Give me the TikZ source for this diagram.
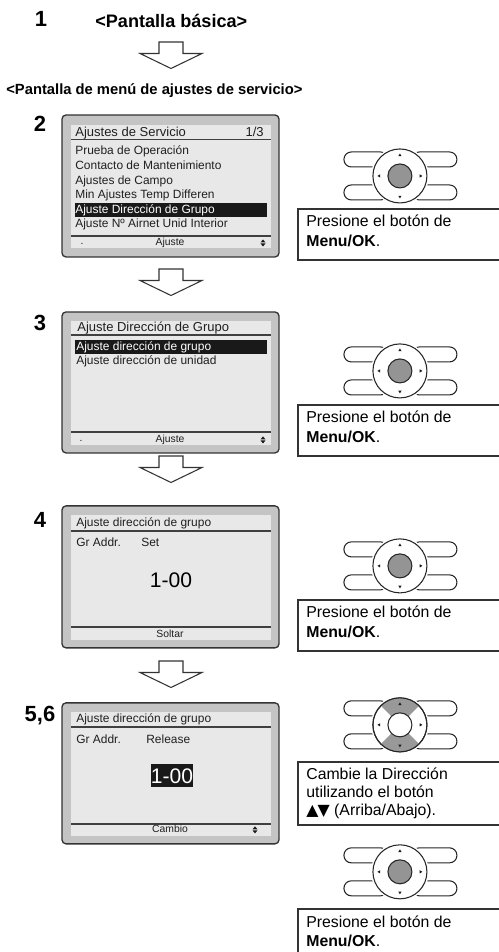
\documentclass[tikz,border=0pt]{standalone}
\usepackage{fontspec}
\setmainfont{Liberation Sans}
\newfontfamily\symfont{DejaVu Sans}
\usetikzlibrary{positioning,calc}

\begin{document}
\begin{tikzpicture}
[x=0.02cm,y=-0.02cm,
num/.style={font=\bfseries\fontsize{12.5}{14}\selectfont,inner sep=0pt,anchor=base},
heading/.style={font=\bfseries\fontsize{10.3}{12}\selectfont,inner sep=0pt,anchor=base west},
bezel/.style={draw=black!80,fill=black!23,line width=.75pt,rounded corners=2.3pt},
lcd/.style={fill=black!9},
lcdline/.style={draw=black!75,line width=.8pt},
ttl/.style={font=\fontsize{7.4}{9}\selectfont,inner sep=0pt,anchor=base west,text=black!88},
itm/.style={font=\fontsize{6.8}{8}\selectfont,inner sep=0pt,anchor=base west,text=black!88},
soft/.style={font=\fontsize{5.9}{7}\selectfont,inner sep=0pt,anchor=base,text=black!88},
hil/.style={fill=black!90},
big/.style={font=\fontsize{12}{14}\selectfont,inner sep=0pt,anchor=base},
tri/.style={fill=black!90},
hollow/.style={draw=black!80,line width=.6pt,fill=white},
note/.style={draw=black!80,line width=.6pt},
notetxt/.style={font=\fontsize{9}{11.3}\selectfont,inner sep=0pt,anchor=north west,align=left},
pad/.style={draw=black!85,line width=.6pt,fill=white},
sidekey/.style={pad,rounded corners=4.2pt},
knob/.style={draw=black!85,line width=.6pt,fill=black!42},
ring/.style={fill=black!40}]
\useasboundingbox (0,0) rectangle (499,952);
%%
%%%%%%%%%%%%%%%%%%
% headings
%%%%%%%%%%%%%%%%%%
\node[num] (n1) at (41,27) {1};
\node[heading] (h1) at (95,28) {<Pantalla básica>};
\node[heading,font=\bfseries\fontsize{8.4}{10}\selectfont] (h2) at (6,95) {<Pantalla de menú de ajustes de servicio>};
\node[num] (n2) at (40,132) {2};
\node[num] (n3) at (40,331) {3};
\node[num] (n4) at (40,527) {4};
\node[num] (n5) at (40,721) {5,6};
%%
%% step arrows
\draw[hollow] (159,42) -- (183,42) -- (183,53.5) -- (202,53.5) -- (171,68.5) -- (140,53.5) -- (159,53.5) -- cycle;
\draw[hollow] (159,269) -- (183,269) -- (183,280.5) -- (202,280.5) -- (171,295.5) -- (140,280.5) -- (159,280.5) -- cycle;
\draw[hollow] (159,456) -- (183,456) -- (183,467.5) -- (202,467.5) -- (171,482.5) -- (140,467.5) -- (159,467.5) -- cycle;
\draw[hollow] (159,661) -- (183,661) -- (183,672.5) -- (202,672.5) -- (171,687.5) -- (140,672.5) -- (159,672.5) -- cycle;
%%
%%%%%%%%%%%%%%%%%%
% screens
%%%%%%%%%%%%%%%%%%
%% screen 2
\begin{scope}[yshift=-2.3cm]
\draw[bezel] (62,0) rectangle (279,142);
\fill[lcd] (71,10) rectangle (271,133);
\node[ttl] (s2title) at (75,22) {Ajustes de Servicio};
\node[ttl,anchor=base east] (s2page) at (264,22) {1/3};
\draw[lcdline] (71,24.5) -- (271,24.5);
\node[itm] (s2a) at (75,40) {Prueba de Operación};
\node[itm] (s2b) at (75,54.6) {Contacto de Mantenimiento};
\node[itm] (s2c) at (75,69.2) {Ajustes de Campo};
\node[itm] (s2d) at (75,83.8) {Min Ajustes Temp Differen};
\fill[hil] (75,88) rectangle (267,102);
\node[itm,text=white] (s2e) at (75,98.4) {Ajuste Dirección de Grupo};
\node[itm] (s2f) at (75,113) {Ajuste Nº Airnet Unid Interior};
\draw[lcdline] (71,121) -- (271,121);
\node[soft] (s2dot) at (82,130) {.};
\node[soft] (s2soft) at (170,131) {Ajuste};
\fill[tri] (263,124.5) -- (260.5,127.5) -- (265.5,127.5) -- cycle;
\fill[tri] (263,131.5) -- (260.5,128.5) -- (265.5,128.5) -- cycle;
\end{scope}
%% screen 3
\begin{scope}[yshift=-6.24cm]
\draw[bezel] (62,0) rectangle (279,141);
\fill[lcd] (71,9) rectangle (271,133);
\node[ttl] (s3title) at (77,20) {Ajuste Dirección de Grupo};
\draw[lcdline] (71,23) -- (271,23);
\fill[hil] (75,28) rectangle (267,42);
\node[itm,text=white] (s3a) at (76,39) {Ajuste dirección de grupo};
\node[itm] (s3b) at (76,53) {Ajuste dirección de unidad};
\draw[lcdline] (71,120) -- (271,120);
\node[soft] (s3dot) at (81,130) {.};
\node[soft] (s3soft) at (170,131) {Ajuste};
\fill[tri] (263,124.5) -- (260.5,127.5) -- (265.5,127.5) -- cycle;
\fill[tri] (263,131.5) -- (260.5,128.5) -- (265.5,128.5) -- cycle;
\end{scope}
%% screen 4
\begin{scope}[yshift=-10.12cm]
\draw[bezel] (62,0) rectangle (279,142);
\fill[lcd] (71,9) rectangle (271,134);
\node[itm] (s4title) at (76,21) {Ajuste dirección de grupo};
\draw[lcdline] (71,25) -- (271,25);
\node[itm] (s4a) at (76,41) {Gr Addr.};
\node[itm] (s4b) at (141,41) {Set};
\node[big] (s4val) at (171,82) {1-00};
\draw[lcdline] (71,121) -- (271,121);
\node[soft] (s4soft) at (170,132) {Soltar};
\end{scope}
%% screen 5,6
\begin{scope}[yshift=-14.06cm]
\draw[bezel] (62,0) rectangle (279,141);
\fill[lcd] (71,9) rectangle (271,133);
\node[itm] (s5title) at (76,20) {Ajuste dirección de grupo};
\draw[lcdline] (71,24) -- (271,24);
\node[itm] (s5a) at (76,41) {Gr Addr.};
\node[itm] (s5b) at (146,41) {Release};
\fill[hil] (151,61) rectangle (193,84);
\node[big,text=white] (s5val) at (172,81) {1-00};
\draw[lcdline] (71,121) -- (271,121);
\node[soft] (s5soft) at (170,130) {Cambio};
\fill[tri] (255,123.5) -- (252.5,126.5) -- (257.5,126.5) -- cycle;
\fill[tri] (255,130.5) -- (252.5,127.5) -- (257.5,127.5) -- cycle;
\end{scope}
%%
%%%%%%%%%%%%%%%%%%
% remote pads
%%%%%%%%%%%%%%%%%%
%% pad 1
\begin{scope}[xshift=8cm,yshift=-3.52cm]
\def \rad {27}
\draw[sidekey] (-56,-24) rectangle (-12,-9);
\draw[sidekey] (12,-24) rectangle (57,-9);
\draw[sidekey] (-56,9) rectangle (-12,24);
\draw[sidekey] (12,9) rectangle (57,24);
\fill[white] (0,0) circle (\rad+2);
\draw[pad] (0,0) circle (\rad);
\draw[knob] (0,0) circle (12);
\fill[tri] (0,-22.5) -- (-1.6,-19.8) -- (1.6,-19.8) -- cycle;
\fill[tri] (0,22.5) -- (-1.6,19.8) -- (1.6,19.8) -- cycle;
\fill[tri] (-22.5,0) -- (-19.8,-1.6) -- (-19.8,1.6) -- cycle;
\fill[tri] (22.5,0) -- (19.8,-1.6) -- (19.8,1.6) -- cycle;
\end{scope}
%% pad 2
\begin{scope}[xshift=8cm,yshift=-7.42cm]
\def \rad {27}
\draw[sidekey] (-56,-24) rectangle (-12,-9);
\draw[sidekey] (12,-24) rectangle (57,-9);
\draw[sidekey] (-56,9) rectangle (-12,24);
\draw[sidekey] (12,9) rectangle (57,24);
\fill[white] (0,0) circle (\rad+2);
\draw[pad] (0,0) circle (\rad);
\draw[knob] (0,0) circle (12);
\fill[tri] (0,-22.5) -- (-1.6,-19.8) -- (1.6,-19.8) -- cycle;
\fill[tri] (0,22.5) -- (-1.6,19.8) -- (1.6,19.8) -- cycle;
\fill[tri] (-22.5,0) -- (-19.8,-1.6) -- (-19.8,1.6) -- cycle;
\fill[tri] (22.5,0) -- (19.8,-1.6) -- (19.8,1.6) -- cycle;
\end{scope}
%% pad 3
\begin{scope}[xshift=8cm,yshift=-11.32cm]
\def \rad {27}
\draw[sidekey] (-56,-24) rectangle (-12,-9);
\draw[sidekey] (12,-24) rectangle (57,-9);
\draw[sidekey] (-56,9) rectangle (-12,24);
\draw[sidekey] (12,9) rectangle (57,24);
\fill[white] (0,0) circle (\rad+2);
\draw[pad] (0,0) circle (\rad);
\draw[knob] (0,0) circle (12);
\fill[tri] (0,-22.5) -- (-1.6,-19.8) -- (1.6,-19.8) -- cycle;
\fill[tri] (0,22.5) -- (-1.6,19.8) -- (1.6,19.8) -- cycle;
\fill[tri] (-22.5,0) -- (-19.8,-1.6) -- (-19.8,1.6) -- cycle;
\fill[tri] (22.5,0) -- (19.8,-1.6) -- (19.8,1.6) -- cycle;
\end{scope}
%% pad 4 (up/down lit)
\begin{scope}[xshift=8cm,yshift=-14.5cm]
\def \rad {27}
\draw[sidekey] (-56,-24) rectangle (-12,-9);
\draw[sidekey] (12,-24) rectangle (57,-9);
\draw[sidekey] (-56,9) rectangle (-12,24);
\draw[sidekey] (12,9) rectangle (57,24);
\fill[white] (0,0) circle (\rad+2);
\draw[pad] (0,0) circle (\rad);
\fill[ring] (45:12) -- (45:\rad) arc[start angle=45,end angle=135,radius=\rad] -- (135:12) arc[start angle=135,end angle=45,radius=12] -- cycle;
\fill[ring] (225:12) -- (225:\rad) arc[start angle=225,end angle=315,radius=\rad] -- (315:12) arc[start angle=315,end angle=225,radius=12] -- cycle;
\draw[black!85,line width=.6pt] (0,0) circle (\rad);
\draw[pad] (0,0) circle (12);
\fill[tri] (0,-22.5) -- (-1.6,-19.8) -- (1.6,-19.8) -- cycle;
\fill[tri] (0,22.5) -- (-1.6,19.8) -- (1.6,19.8) -- cycle;
\fill[tri] (-22.5,0) -- (-19.8,-1.6) -- (-19.8,1.6) -- cycle;
\fill[tri] (22.5,0) -- (19.8,-1.6) -- (19.8,1.6) -- cycle;
\end{scope}
%% pad 5
\begin{scope}[xshift=8cm,yshift=-17.44cm]
\def \rad {27}
\draw[sidekey] (-56,-24) rectangle (-12,-9);
\draw[sidekey] (12,-24) rectangle (57,-9);
\draw[sidekey] (-56,9) rectangle (-12,24);
\draw[sidekey] (12,9) rectangle (57,24);
\fill[white] (0,0) circle (\rad+2);
\draw[pad] (0,0) circle (\rad);
\draw[knob] (0,0) circle (12);
\fill[tri] (0,-22.5) -- (-1.6,-19.8) -- (1.6,-19.8) -- cycle;
\fill[tri] (0,22.5) -- (-1.6,19.8) -- (1.6,19.8) -- cycle;
\fill[tri] (-22.5,0) -- (-19.8,-1.6) -- (-19.8,1.6) -- cycle;
\fill[tri] (22.5,0) -- (19.8,-1.6) -- (19.8,1.6) -- cycle;
\end{scope}
%%
%%%%%%%%%%%%%%%%%%
% notes
%%%%%%%%%%%%%%%%%%
\draw[note] (499,209) -| (298,260) -- (499,260);
\node[notetxt] (t1) at (306,215) {Presione el botón de\\\textbf{Menu/OK}.};
\draw[note] (499,405) -| (298,456) -- (499,456);
\node[notetxt] (t2) at (306,411) {Presione el botón de\\\textbf{Menu/OK}.};
\draw[note] (499,600) -| (298,651) -- (499,651);
\node[notetxt] (t3) at (306,606) {Presione el botón de\\\textbf{Menu/OK}.};
\draw[note] (499,762) -| (298,825) -- (499,825);
\node[notetxt,font=\fontsize{9}{10.5}\selectfont] (t4) at (306,767) {Cambie la Dirección\\utilizando el botón\\{\symfont ▲\kern-.5pt▼} (Arriba/Abajo).};
\draw[note] (499,909) -| (298,952);
\node[notetxt] (t5) at (306,915) {Presione el botón de\\\textbf{Menu/OK}.};
%%
\end{tikzpicture}
\end{document}
